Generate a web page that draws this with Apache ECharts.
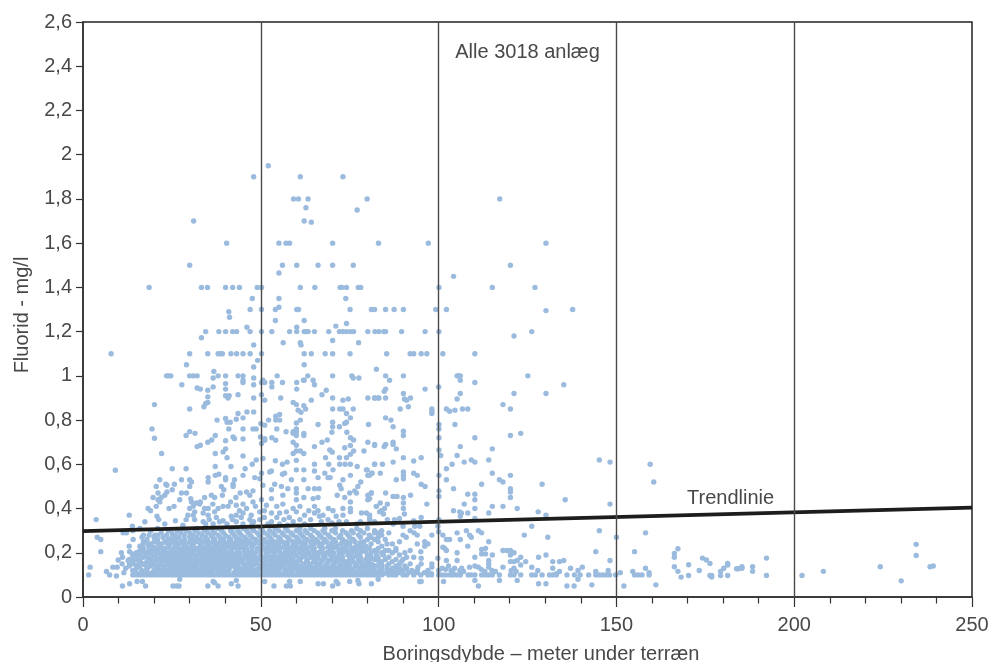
<!DOCTYPE html>
<html><head><meta charset="utf-8">
<style>html,body{margin:0;padding:0;background:#fff}#c{width:989px;height:662px}</style>
<script src="https://cdn.jsdelivr.net/npm/echarts@6/dist/echarts.min.js"></script>
</head><body><div id="c"></div>
<script>
const highPoints=[[52.1,1.95],[48,1.9],[61.1,1.9],[73.1,1.9],[59.2,1.8],[60.6,1.8],[63.3,1.8],[79.9,1.8],[117.2,1.8],[62.7,1.76],[77.1,1.75],[31.1,1.7],[62.2,1.7],[64.2,1.695],
[40.4,1.6],[55.1,1.6],[57.1,1.6],[58.1,1.6],[70.2,1.6],[83.1,1.6],[97.1,1.6],[130.2,1.6],[30,1.5],[56.1,1.5],[60.1,1.5],[66.1,1.5],[70.2,1.5],[76,1.5],[120.2,1.5],[55.1,1.465],[104.2,1.45],
[18.6,1.4],[33.3,1.4],[35,1.4],[40.1,1.4],[42.1,1.4],[44,1.4],[49,1.4],[50.2,1.4],[61.1,1.4],[65.2,1.4],[72.3,1.4],[72.8,1.4],[74.1,1.4],[77.4,1.4],[78.1,1.4],[100.1,1.4],[115.1,1.4],[127.1,1.4],
[47.6,1.35],[55.1,1.35],[73.9,1.35],[47,1.3],[50.2,1.3],[54.1,1.3],[55.1,1.31],[60.1,1.3],[60.6,1.3],[75.1,1.3],[81.1,1.3],[82,1.3],[85.1,1.3],[87.5,1.3],[90.1,1.3],[99.2,1.3],[102.2,1.3],[130.2,1.295],[137.7,1.3],
[41,1.29],[41.2,1.265],[54.1,1.25],[62.2,1.25],[46.1,1.22],[60.1,1.22],[71.1,1.225],[74.1,1.237],
[34.5,1.2],[38.2,1.2],[40.1,1.2],[42.1,1.2],[43.2,1.2],[47,1.2],[50.2,1.2],[53.1,1.2],[58.1,1.2],[60.1,1.2],[62.2,1.2],[62.7,1.2],[63.3,1.2],[65.1,1.2],[69.1,1.2],[72.1,1.2],[73.1,1.2],[74.1,1.2],[75.2,1.2],[76.1,1.2],[80.1,1.2],[82.1,1.2],[83.2,1.2],[84.6,1.2],[85.1,1.2],[89.6,1.2],[96.2,1.2],[100.1,1.2],[126.2,1.2],
[33.3,1.172],[121.2,1.18],[70.2,1.16],[56.3,1.15],[61.1,1.15],[61.3,1.14],[77.5,1.15],[48,1.14],
[7.9,1.1],[30,1.1],[35.1,1.1],[38,1.1],[38.6,1.1],[39.2,1.1],[41.6,1.1],[43.2,1.1],[45,1.1],[47,1.1],[50.2,1.1],[62.2,1.1],[64.2,1.1],[68.1,1.1],[70.2,1.1],[75.1,1.1],[85.4,1.1],[92,1.1],[93,1.1],[95.1,1.1],[96.7,1.1],[101.2,1.1],[110.2,1.1],
[49.1,1.07],[29.1,1.05],[48,1.04],[62.2,1.05],[36.8,1.02],[82.5,1.03],
[23.5,1],[24.1,1],[24.7,1],[30,1],[31,1],[32.1,1],[36.6,.99],[38,1],[40.1,1],[43.6,1],[45,1],[48,.99],[54.6,1],[63.2,1],[70.2,1],[75.6,1],[76,.99],[77.6,.99],[85.1,1],[90.1,1],[105.2,1],[105.6,1],[106.1,1],[125.1,1],
[50.6,.98],[64.7,.98],[62,.98],[45,.98],[86.2,.98],[106.1,.98]];
const midPoints=[[27.8,.96],[32.1,.945],[33,.94],[35.1,.935],[36.6,.95],[40.1,.965],[40.1,.94],[45,.97],[48,.96],[50.2,.97],[51.1,.97],[53.1,.97],[53.1,.95],[56.1,.97],[60.1,.97],[60.1,.94],[62.2,.98],[65.1,.96],[68.4,.935],[67.2,.915],[64.2,.89],[59.1,.88],[60,.87],[60.5,.845],[62.1,.865],[62.6,.85],[61.3,.835],[50.2,.915],[51.1,.89],[55.6,.9],[48,.9],[43.6,.915],[40.1,.91],[41.1,.91],[40.8,.9],[35.1,.905],[35.1,.88],[34.5,.875],[34,.86],[30,.85],[20.1,.87],[70.2,.9],[73.1,.89],[74.6,.895],[80.1,.9],[82,.9],[83,.9],[70.2,.85],[72.2,.85],[73.1,.85],[74.1,.83],[76,.85],[70.2,.79],[70.2,.77],[72.1,.77],[74.1,.79],[75.2,.81],[73.6,.785],[80.3,.78],[66.1,.78],[70,.745],[74.2,.745],[75.2,.72],[76.1,.71],[80.1,.7],[82,.685],[75.2,.685],[73.6,.675],[76.1,.66],[75.2,.645],[74.1,.63],[72.1,.63],[79,.66],[67.2,.7],[68.7,.71],[65.1,.68],[69.4,.665],[70.1,.655],[68.2,.63],[69.1,.6],[72.2,.6],[73.7,.6],[75.2,.6],[77.1,.59],[82,.6],[79.9,.575],[80.6,.55],[81.3,.56],
[37.7,.8],[40.1,.807],[40.5,.79],[41.4,.79],[43.1,.804],[43.6,.83],[45,.81],[46.1,.837],[48,.837],[45,.76],[41,.76],[47.8,.76],[48.7,.76],[50,.784],[51.1,.777],[52.2,.8],[54.2,.817],[55.3,.825],[54.2,.8],[55.3,.8],[54.5,.76],[57.1,.747],[59.1,.74],[60,.747],[61.1,.8],[60,.787],[60,.76],[59.1,.747],[60,.73],[62.1,.74],[62.1,.73],[19.4,.76],[20.1,.718],[30,.748],[29,.73],[31.5,.74],[37.2,.73],[36.2,.71],[35.1,.7],[33,.686],[32.1,.68],[40.1,.707],[42.2,.724],[42.6,.716],[45,.715],[49.9,.724],[51.1,.716],[50.2,.694],[51.1,.709],[53.1,.72],[54.2,.709],[59.1,.7],[60,.686],[59.1,.649],[60,.66],[61.1,.66],[62.1,.649],[60,.618],[22.1,.649],[40.1,.67],[39.4,.656],[37.2,.649],[40.5,.63],[45,.638],[48.7,.62],[47.6,.6],[50.6,.626],[54.1,.616],[56.1,.6],[57.4,.61],[65.1,.6],[9.1,.573],[25.1,.58],[29,.58],[37.2,.59],[41.6,.59],[45.6,.58],
[96.2,.94],[110.2,.97],[106.1,.92],[105.2,.895],[121.2,.92],[130.2,.92],[135.2,.96],[100,.95],[85.1,.94],[84.7,.93],[82,.9],[83.2,.9],[85.1,.9],[90.1,.92],[90.4,.895],[91,.89],[92.1,.9],[89.2,.85],[91.5,.86],[98.1,.85],[98.1,.84],[98.1,.83],[102.2,.85],[103.1,.84],[104.6,.845],[106.7,.85],[108.2,.85],[118.1,.87],[120.2,.85],[85.1,.81],[86.6,.8],[87.2,.77],[90.1,.75],[90.1,.73],[100.1,.78],[100.1,.76],[100.1,.72],[104.6,.78],[110.2,.72],[120.2,.73],[123.1,.74],[82,.69],[84.7,.68],[85.1,.69],[87.2,.7],[87.2,.69],[88.1,.67],[100.1,.665],[100.6,.64],[106.1,.68],[115.1,.67],[105.2,.64],[90.1,.63],[93,.615],[95.1,.63],[87.2,.61],[84.2,.6],[82,.6],[107.2,.61],[109.2,.62],[110.2,.61],[114.1,.62],[103.8,.6],[102.2,.58],[145.2,.62],[148.2,.61],[159.5,.6]];
const lowerMidPoints=[[160.5,.52],[81.1,.56],[83.6,.56],[90.1,.565],[90.1,.55],[90.1,.535],[93,.56],[94,.55],[88.1,.53],[100.1,.55],[102.2,.53],[115.1,.56],[117.1,.53],[118.1,.52],[120.2,.55],[95.1,.51],[96.2,.5],[112.1,.51],[129.1,.51],[104.2,.49],[120.2,.49],[120.2,.475],[100.1,.48],[100.1,.455],[108.2,.465],[110.2,.465],[110.2,.44],[120.2,.45],[85.1,.47],[87.2,.455],[88.3,.455],[90.1,.45],[92.1,.46],[81.1,.47],[80.6,.445],[83.6,.425],[85.6,.42],[90.1,.425],[90.1,.4],[96.7,.42],[82.5,.41],[83.9,.39],[84.8,.4],[83.4,.385],[84.5,.375],[107.2,.42],[110.2,.4],[115.1,.41],[118.1,.41],[122.1,.4],[135.6,.44],[148.2,.42],[104.2,.39],[105.9,.385],[106.4,.38],[106.1,.365],[108.2,.38],[114.1,.38],[128,.385],[130.2,.37],[80.6,.355],[85.6,.35],[87.6,.35],[89,.355],[90.4,.375],[95.1,.36],[93,.345],[110.2,.355],[100.1,.35],
[21.6,.53],[20.6,.5],[23.3,.51],[23.6,.505],[25.7,.51],[27.7,.53],[30,.53],[30.5,.52],[30,.5],[35.2,.54],[35.2,.52],[37.2,.55],[38.2,.555],[40.1,.54],[40.1,.53],[42.6,.53],[42.2,.51],[42.2,.5],[45,.55],[48.3,.54],[49.7,.535],[50.2,.56],[52.5,.565],[53,.57],[56.1,.555],[56.7,.56],[58.6,.53],[62.1,.575],[62.1,.53],[60,.575],[65.1,.57],[68,.56],[68.9,.54],[69.5,.54],[70.3,.575],[66.1,.54],[73.1,.53],[75.2,.55],[78.1,.52],[79.7,.575],[80.1,.55],
[19.7,.45],[21.1,.47],[22,.45],[23,.46],[23.6,.475],[25.1,.485],[27.7,.47],[29.1,.47],[30.3,.445],[34.2,.45],[36.1,.46],[37,.45],[38.9,.5],[39.6,.485],[39.2,.46],[43,.45],[44.2,.47],[46,.475],[46.9,.46],[47.8,.48],[50.6,.505],[53,.485],[53.9,.51],[55.8,.5],[56.2,.46],[57.6,.49],[60,.49],[60,.47],[62.1,.45],[63.3,.49],[65.1,.49],[66.4,.49],[66.1,.45],[64.7,.445],[72.2,.505],[72.6,.49],[71.5,.46],[73.6,.45],[75,.47],[76.4,.48],[77.3,.5],[76.9,.47],[80.1,.46],[81.1,.47],[80.1,.44],
[21.6,.43],[20.6,.41],[21.1,.44],[24.2,.4],[25.6,.41],[27.2,.44],[30.5,.43],[31.9,.425],[32.8,.42],[34.2,.4],[35.2,.4],[37,.385],[38,.4],[39.4,.41],[40.8,.41],[43.1,.415],[45,.42],[46,.4],[47.8,.43],[50.2,.44],[51.6,.415],[53,.445],[56.2,.42],[59.1,.4],[60,.44],[65.1,.41],[66.1,.39],[70.3,.39],[73.1,.4],[75.2,.43],[75.2,.4],[82.5,.41],[18.3,.4],[19,.39],[30,.4],[29.5,.37],[31.4,.385],[33.8,.38],[35.2,.37],[38.4,.34],[39.4,.345],[43.1,.37],[45,.38],[47.3,.37],[49.7,.385],[53,.38],[55.3,.38],[57.2,.385],[60,.385],[62.3,.37],[65.1,.38],[66.5,.365],[68.9,.35],[71.2,.365],[73.1,.37],[75.2,.385],[78.3,.38],[79.7,.38],[80.6,.37],[13,.37],[3.7,.35],[20.8,.365],[21.3,.35],[17.4,.34],[23,.33],[13.9,.32],[28.1,.325],[31.4,.35],[33.8,.34],[36.6,.33],[41.7,.365],[43.1,.34],[45,.33],[46.9,.35],[49.7,.35],[53,.34],[55.3,.33],[59.1,.34],[62.3,.33],[74.1,.34],[76.9,.33],[80.6,.35],
[31,.41],[33,.43],[36.5,.42],[41.5,.43],[44,.39],[48.5,.41],[51,.39],[54.5,.41],[58,.36],[61,.41],[63.5,.39],[67.5,.37],[69,.4],[31,.37],[35.5,.35],[37.5,.36],[42,.35],[44.5,.36],[48,.34],[51,.36],[52,.33],[54.5,.36],[56.5,.35],[61,.35],[64,.35],[67,.34],[70,.335],[72,.34],[78,.34],[82,.34],[26,.345],[29,.35],[34.5,.33],[40.5,.33],[47.5,.33],[57.5,.325]];
const lowerRightPoints=[[94.7,.32],[93.3,.32],[90,.32],[87.2,.33],[126.2,.32],[107.8,.3],[111.2,.3],[112.1,.29],[100,.295],[99.8,.32],[145.2,.3],[158.2,.29],[105.2,.29],[124.1,.28],[130.7,.27],[150,.27],[108.7,.28],[109.2,.27],[98.1,.28],[92,.3],[93.1,.29],[94,.28],[90,.28],[90.9,.27],[101.2,.28],[102.2,.26],[103.1,.26],[106.1,.26],[114.1,.25],[108.2,.23],[94,.24],[96.1,.25],[97,.24],[96.1,.23],[101.2,.225],[102.2,.21],[101.7,.22],[113.2,.22],[112.1,.215],[118.1,.21],[119.2,.21],[120.2,.21],[121.2,.2],[120.2,.19],[105.2,.2],[112.1,.195],[113.2,.195],[115.1,.19],[110.2,.18],[123.1,.18],[128.1,.18],[130.2,.19],[144.2,.205],[155.1,.205],[148.2,.165],[135.2,.165],[134,.16],[132.1,.16],[120.2,.16],[121.2,.16],[122.1,.165],[124.5,.16],[123.1,.145],[126.2,.135],[118.1,.135],[114.1,.165],[114.1,.15],[114.1,.135],[108.7,.135],[110.2,.14],[111.2,.135],[105.2,.165],[102.2,.165],[99.8,.175],[98.1,.15],[98.1,.135],[95.1,.175],[95.1,.15],[94.2,.135],[132.1,.13],[137.1,.13],[140.4,.135],[139.2,.12],[158.2,.13],[147.7,.12],[144.2,.115],[154.6,.115],[159.2,.11],[134,.115],[133.1,.105],[127.9,.12],[121.2,.13],[120.4,.12],[121.8,.115],[151.1,.11],
[155.1,.1],[156.1,.1],[157.2,.1],[159.2,.1],[144.2,.1],[145.2,.1],[146.2,.1],[147.1,.1],[148.1,.1],[149.8,.1],[142.2,.1],[139.8,.1],[138.2,.1],[136.1,.1],[133.1,.1],[132.1,.1],[131.2,.1],[129.1,.1],[127.2,.1],[126.2,.1],[123.1,.1],[121.2,.1],[120.2,.1],[117.1,.1],[115.1,.1],[114.1,.1],[113.2,.1],[112.1,.1],[110.2,.1],[109.2,.1],[108.3,.1],[106.1,.1],[105.2,.1],[104.1,.1],[103.2,.1],[102,.1],[101,.1],[100,.1],
[139.2,.08],[122.1,.075],[117.1,.075],[110.2,.075],[128.1,.06],[130.2,.06],[136.1,.05],[138.1,.05],[143.1,.055],[152.1,.05],[161.1,.055],[111.2,.05],[101.4,.07],[94.7,.07],[95.1,.07],
[102,.125],[103.5,.12],[104.5,.13],[106,.12],[107,.115],[101,.13],[100,.12],[102.8,.14],[104,.11],[106.5,.13],[115,.12],[113,.115],[116,.115],[112,.125],[97,.12],[96,.11],[98,.105],[93,.11],[94,.12],[91,.13],[92,.15],[90,.17],[93,.18],[90.5,.2],[88,.21],[92,.21],[95,.205],[87,.24],[89,.25],[85,.26],[83,.27],[86,.29],[84,.3],[82,.29],[88,.22]];
const farRightPoints=[[166.3,.197],[166.3,.18],[167.3,.218],[166.3,.137],[167.3,.116],[168.2,.09],[170.3,.146],[170.3,.097],[173.3,.12],[174.2,.176],[175.3,.167],[176.3,.152],[176.3,.097],[176.8,.097],[176.8,.09],[179.3,.116],[179.3,.097],[180.2,.13],[181.3,.152],[181.3,.145],[181.3,.097],[183.8,.128],[184.3,.128],[185.3,.137],[185.3,.13],[188.3,.137],[188.3,.116],[192.2,.176],[192.2,.097],[202.2,.097],[208.2,.116],[224.2,.137],[230.1,.073],[234.3,.238],[234.3,.188],[238.2,.137],[239.1,.14]];
const lowerLeftPoints=[[1.6,.1],[2,.135],[6.6,.115],[7.5,.1],[9.4,.095],[8.4,.135],[9.6,.135],[4,.27],[5,.26],[5,.205],[11.1,.05],[13.1,.06],[15.2,.07],[16.7,.07],[17.6,.05],[11.5,.11],[10.8,.2],[11.1,.18],[9.9,.167],[13,.23],[13.1,.205],[14.1,.26],[13.9,.195],[12.7,.165],[13.1,.15],[14.5,.19],[15.2,.175],[11.3,.29],[12.2,.29],[16.6,.27],[16.9,.24],[18.3,.24],[18.6,.28],[20.2,.28],
[25.3,.05],[26.3,.05],[27,.05],[27.2,.08],[35.1,.05],[38,.05],[41.7,.06],[43.6,.05],[43.1,.075],[36.6,.07],[37,.065],[51.1,.07],[53.7,.05],[57.2,.05],[58.3,.05],[58.1,.07],[61.1,.07],[66.1,.06],[67.6,.06],[70.2,.05],[71.7,.06],[71.2,.07],[75,.07],[77.6,.06],[77.3,.075],[81.1,.06],[83,.08]];

const level010=[14,15,16,17,18,19,20,21,22,23,24,25,26,27,28,29,30,31,32,33,34,35,36,37,38,39,40,41,42,43,44,45,46,47,48,49,50,51,52,53,54,55,56,57,58,59,60,61,62,63,64,65,66,67,68,69,70,71,72,73,74,75,76,77,78,79,80,81,82,83,84,86,87,88,90,91,93,95,97,98];
const level011=[15,17.5,19.5,21,23,25.5,27.5,29,31.5,33,35,36.5,38.5,40,42.5,44,46,47.5,49,51.5,53,55,56.5,58,60.5,62,64,65.5,67,69.5,71,73,75.5,77,79,81,83,85.5,87,89,91.5,94];
const level012=[14,16.5,20,22,24,26,28,30,32.5,34,36,38,39.5,41,43,45,48,50.5,52,54,57,59,61,63,66,68,70,72,74,76,78,80,82,84,86,88,90,92.5];
const level013=[12,15,18,21,23,25,27,29.5,31,33.5,35,37,39,41,44,46,47.5,49.5,51,53.5,55.5,58,60,62.5,64.5,67,69,71,73,75,77.5,79.5,81.5,84,87,89,91];
const level014=[13,16,19,20.5,22.5,24.5,26.5,28.5,30.5,32,34,36,38,40,42,43.5,45.5,47,50,52,54.5,56,59,61,63.5,65.5,68,70,72,74,76.5,78.5,80.5,82.5,85.5,88,90.5];
const level015=[11,14,17,19,21.5,23.5,25,27,29,31,33,35,37,39,41,43,45,47,49,51,53,55,57,59.5,62,64,66,68.5,70.5,73,75,77,79,81,83.5,86,89];
const level016=[14,16,18,20,22,24,26,28,30,32,34,36.5,38.5,40.5,42,44.5,46.5,48,50.5,52.5,54,56,58,60,63,65,67,69,71.5,74,76,78,80,84,87,89.5];
const level017=[13,15,18.5,21,23,25,27.5,29.5,31.5,33.5,35.5,37.5,39.5,41.5,43.5,45,47.5,49.5,51.5,53.5,55.5,58.5,61,63,65.5,67.5,70,72,75,77.5,79.5,82,85,88];
const level018=[14,17,19.5,22,24,26,28,30,32,34,36,38,40,42.5,44,46,48.5,51,53,55,57,59,61.5,64,66,68,71,73,76,78,81,83,86,91];
const level019=[16,18,20.5,23,25,27,29,31,33,35,37,39,41,43,45.5,47,50,52,54,56.5,58.5,60,62.5,65,67.5,69.5,72,74.5,77,80,82.5,84.5,89];
const level020=[15,17.5,19,21.5,24,26,28,30,32.5,34,36,38.5,40.5,42,44,46.5,48.5,51.5,53.5,55.5,58,61,63.5,66,68.5,70.5,73,75.5,78,81,84,87];
const level021=[16,18.5,20,22.5,25,27,29,31,33,35,37,39,41.5,43.5,45.5,47.5,50,52.5,54.5,57,59.5,62,64.5,67,69.5,72,74,76.5,79,82,85,86];
const level022=[17,19,21,23,25.5,28,30,32,34,36,38,40,42,44,46,49,51,53,55.5,58,60.5,63,65,67.5,70,73,75.5,78,80.5,83];
const level023=[16,18.5,21.5,24,26,28.5,30.5,33,35,37,39,41,43,45,47.5,50,52,54,56.5,59,61.5,64,66.5,69,71.5,74,77,79.5,84];
const level024=[19,22,24.5,27,29,31,33.5,35.5,37.5,40,42,44,46,48,50.5,53,55,57.5,60,62.5,65,67,70,72.5,75,78,81,85.5];
const level025=[17,20,23,25,27.5,30,32,34,36.5,38.5,41,43,45,47,49.5,51.5,54,56,59,61,64,66,68.5,71,74,76.5,79,83];
const level026=[18,21,24,26,28.5,31,33,35,37,39.5,41.5,44,46,48.5,51,53,55.5,58,60.5,63,65.5,68,70.5,73,76,80,82];
const level027=[20,22.5,25,27,30,32,34.5,36.5,38.5,41,43,45.5,47.5,50,52.5,55,57.5,60,62,64.5,67,69.5,72,75,78,81];
const level028=[17,21,23.5,26,28.5,31,33.5,36,38,40,42.5,44.5,47,49.5,52,54,56.5,59,61.5,64,66.5,69,72.5,74.5,77.5,80.5,84];
const level029=[22,25,27.5,30,32.5,35,37,39.5,42,44,46.5,49,51,53.5,56,58.5,61,63,66,68,71,74,76,79,83];
const level030=[14,19,24,26.5,29,31.5,34,36.5,39,41.5,43.5,46,48,50.5,52.5,55,57.5,60,62.5,65,67.5,70,73,75.5,78,82];
const level031=[16,21,28,32,35,38,42,45,47.5,50,54,57,61,64,68,71,77,80];
const level0105=[16.5,18.5,20.5,22.5,24.5,26.5,28.5,30.5,32.5,34.5,36.5,38.5,40.5,42.5,44.5,46.5,48.5,50.5,52.5,54.5,56.5,58.5,60.5,62.5,64.5,66.5,68.5,70.5,72.5,74.5,76.5,78.5,80.5,82.5,84.5,86.5];
const level0125=[18,21,23,25,27,29,31,33,35,37,39,41,43,45,47,49,51,53,55,57,59.5,61.5,63.5,65,67.5,69.5,71.5,73.5,75.5,77.5,79.5,81.5,83.5,85.5,88.5];
const level0145=[15,17.5,19.5,21.5,23.5,25.5,27.5,29.5,31.5,33.5,35.5,37.5,39.5,41.5,43.5,46,48,50.5,52.5,54.5,56.5,58,60,62,64,66.5,68.5,70.5,72.5,74.5,77,79.5,81.5,84];
const level0165=[16,19,21,23,25,27,29,31,33,35,37,39,41,43,45,47,49,51,53,55,57,59,61,63,65,67,69,71,73,75.5,78,80.5,83];
const level0185=[18,20,22,24,26,28,30,32,34,36,38,40,42,44,46,48,50,52,54,56,58,60,62,64,66,68,70,72.5,75,77.5,80];
const level0205=[16.5,19,21,23,25,27,29,31,33,35,37.5,39.5,41.5,43.5,45.5,47.5,50,52,54,57,59,61,63,65,67,69.5,72,74.5,77,79.5,82.5];
const level0225=[20,22,24,26.5,29,31,33.5,35.5,38,40,42.5,45,47.5,50,52.5,55,57,59.5,62,64.5,67,69,71,74,76.5,79];
const level0245=[21,23.5,26,28,30.5,33,35,37,39.5,41.5,44,46.5,49,52,54.5,57,60,62,65,67.5,70,73,75,78];

const levelRows=[[.10,level010],[.105,level0105],[.11,level011],[.12,level012],[.125,level0125],[.13,level013],[.14,level014],[.145,level0145],[.15,level015],[.16,level016],[.165,level0165],[.17,level017],[.18,level018],[.185,level0185],[.19,level019],[.20,level020],[.205,level0205],[.21,level021],[.22,level022],[.225,level0225],[.23,level023],[.24,level024],[.245,level0245],[.25,level025],[.26,level026],[.27,level027],[.28,level028],[.29,level029],[.30,level030],[.31,level031]];
const bandPoints=[];
levelRows.forEach(function(r){r[1].forEach(function(d){bandPoints.push([d,r[0]]);});});
const allPoints=[].concat(highPoints,midPoints,lowerMidPoints,lowerRightPoints,farRightPoints,lowerLeftPoints,bandPoints);

const trendLine=[[0,.298],[250,.404]];
const guideDepths=[50,100,150,200];
const notes=[{t:'Alle 3018 anlæg',p:[125,2.463]},{t:'Trendlinie',p:[182.1,.447]}];
const font='"Liberation Sans"';
const ink='#484847';
const chart=echarts.init(document.getElementById('c'),null,{renderer:'canvas'});
chart.setOption({
 animation:false,backgroundColor:'#fff',
 grid:{left:83,right:17,top:22,bottom:65,show:true,borderColor:'#222',borderWidth:1.5,backgroundColor:'transparent',outerBoundsMode:'none',containLabel:false},
 xAxis:{type:'value',min:0,max:250,interval:50,
  name:'Boringsdybde – meter under terræn',nameLocation:'middle',nameGap:47,
  nameTextStyle:{fontFamily:font,fontSize:20,color:ink,padding:[0,0,0,27]},
  axisLine:{show:true,onZero:false,lineStyle:{color:'#333',width:1.5}},
  axisTick:{show:true,length:10,lineStyle:{color:'#333',width:1.2}},
  minorTick:{show:true,splitNumber:5,length:6.5,lineStyle:{color:'#333',width:1.2}},
  axisLabel:{fontFamily:font,fontSize:20,color:ink,margin:18.5},
  splitLine:{show:false},minorSplitLine:{show:false}},
 yAxis:{type:'value',min:0,max:2.6,interval:.2,
  name:'Fluorid - mg/l',nameLocation:'middle',nameGap:51,
  nameTextStyle:{fontFamily:font,fontSize:20,color:ink,padding:[0,11,0,0]},
  axisLine:{show:true,lineStyle:{color:'#333',width:1.5}},
  axisTick:{show:true,length:7,lineStyle:{color:'#333',width:1.2}},
  axisLabel:{fontFamily:font,fontSize:20,color:ink,margin:11,formatter:function(v){return String(+v.toFixed(1)).replace('.',',');}},
  splitLine:{show:false}},
 series:[
  {name:'Anlæg',type:'scatter',data:allPoints,symbol:'circle',symbolSize:5.4,itemStyle:{color:'#9abbde',opacity:1},z:2,large:false},
  {name:'Guides',type:'line',data:[],z:3,markLine:{silent:true,symbol:'none',label:{show:false},animation:false,
    lineStyle:{color:'#4a4a4a',width:1.4,type:'solid'},data:guideDepths.map(function(d){return {xAxis:d};})}},
  {name:'Trendlinie',type:'line',data:trendLine,showSymbol:false,symbol:'none',lineStyle:{color:'#1d1d1b',width:3.8},z:4},
  {name:'Noter',type:'scatter',data:notes.map(function(n){return {value:n.p,label:{formatter:n.t}};}),symbolSize:0,z:5,itemStyle:{opacity:1},
    label:{show:true,position:'inside',fontFamily:font,fontSize:20,color:ink,opacity:1}}
 ]
});
</script></body></html>
